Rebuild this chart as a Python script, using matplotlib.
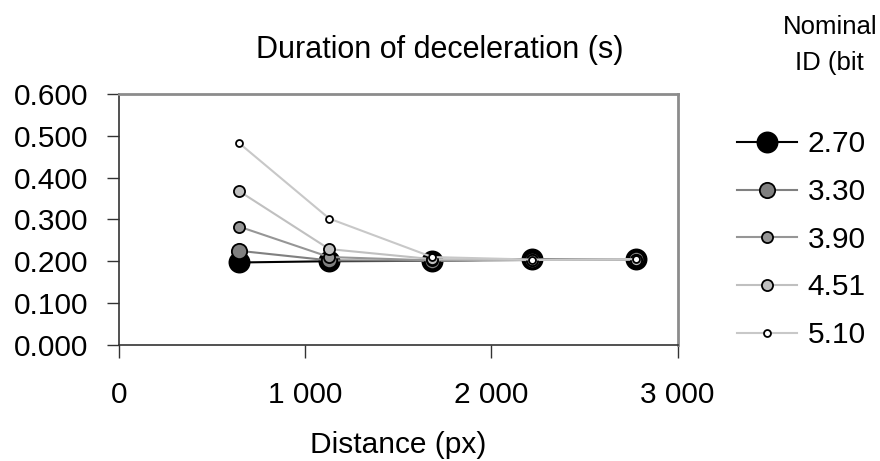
import matplotlib

matplotlib.use("Agg")
import matplotlib.pyplot as plt
from matplotlib.ticker import FuncFormatter

plt.rcParams["font.family"] = ["Liberation Sans", "DejaVu Sans"]

# data
distance = [645, 1130, 1683, 2220, 2774]
id_labels = ["2.70", "3.30", "3.90", "4.51", "5.10"]
dur_270 = [0.197, 0.200, 0.201, 0.205, 0.205]
dur_330 = [0.225, 0.202, 0.201, 0.203, 0.205]
dur_390 = [0.283, 0.210, 0.202, 0.203, 0.204]
dur_451 = [0.368, 0.229, 0.205, 0.203, 0.204]
dur_510 = [0.483, 0.302, 0.210, 0.204, 0.205]

series = [dur_270, dur_330, dur_390, dur_451, dur_510]
line_colors = ["#000000", "#808080", "#969696", "#c0c0c0", "#c8c8c8"]
face_colors = ["#000000", "#808080", "#969696", "#c0c0c0", "#ffffff"]
marker_sizes = [14.5, 11, 8, 8, 5]

fig = plt.figure(figsize=(8.8, 4.61), dpi=100)
ax = fig.add_axes([0.135, 0.252, 0.635, 0.544])

handles = []
for vals, lc, fc, ms in zip(series, line_colors, face_colors, marker_sizes):
    (h,) = ax.plot(distance, vals, color=lc, linewidth=1.5, marker="o",
                   markersize=ms, markerfacecolor=fc, markeredgecolor="black",
                   markeredgewidth=1.3)
    handles.append(h)

ax.set_xlim(0, 3000)
ax.set_ylim(0, 0.6)
ax.set_xticks([0, 1000, 2000, 3000])
ax.set_yticks([0, 0.1, 0.2, 0.3, 0.4, 0.5, 0.6])
ax.xaxis.set_major_formatter(FuncFormatter(lambda v, p: f"{int(v):,}".replace(",", " ")))
ax.yaxis.set_major_formatter(FuncFormatter(lambda v, p: f"{v:.3f}"))
ax.tick_params(axis="both", direction="out", length=9, width=1, color="#333333",
               labelsize=21.5)
ax.tick_params(axis="y", pad=13)
ax.tick_params(axis="x", pad=17)

for side in ("left", "bottom"):
    ax.spines[side].set_color("#333333")
    ax.spines[side].set_linewidth(1.2)
for side in ("top", "right"):
    ax.spines[side].set_color("#8c8c8c")
    ax.spines[side].set_linewidth(2)

fig.text(0.5, 0.892, "Duration of deceleration (s)", ha="center", va="center", fontsize=22)
ax.set_xlabel("Distance (px)", fontsize=21.5, labelpad=16)
fig.text(0.943, 0.902, "Nominal\nID (bit", ha="center", va="center", fontsize=18.5,
         linespacing=1.65)

fig.legend(handles, id_labels, loc="center left", bbox_to_anchor=(0.838, 0.48),
           frameon=False, fontsize=21.5, handlelength=2.0, handletextpad=0.35,
           labelspacing=0.66, borderpad=0, borderaxespad=0)

fig.savefig("out.png", dpi=100)
